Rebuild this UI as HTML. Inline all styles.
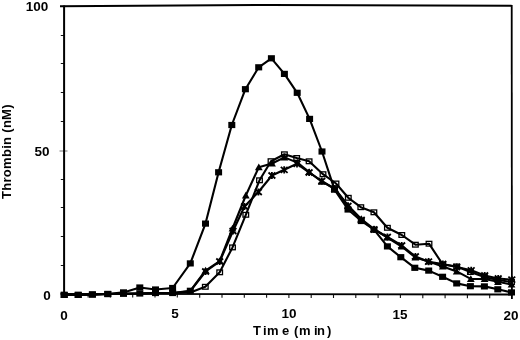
<!DOCTYPE html>
<html><head><meta charset="utf-8"><style>
html,body{margin:0;padding:0;background:#fff;}
body{width:520px;height:340px;overflow:hidden;position:relative;font-family:"Liberation Sans",sans-serif;}
svg{position:absolute;left:0;top:0;}
.t{position:absolute;will-change:transform;font-weight:bold;font-size:13px;line-height:13px;color:#000;white-space:nowrap;}
.n{position:absolute;will-change:transform;font-weight:bold;font-size:13.5px;line-height:13px;color:#000;white-space:nowrap;width:40px;text-align:center;}
</style></head><body>
<svg width="520" height="340" viewBox="0 0 520 340">
<g stroke="#111" stroke-width="1" fill="none"><line x1="60.8" y1="265.5" x2="64" y2="265.5"/><line x1="60.8" y1="236.5" x2="64" y2="236.5"/><line x1="60.8" y1="207.5" x2="64" y2="207.5"/><line x1="60.8" y1="179.5" x2="64" y2="179.5"/><line x1="60.8" y1="121.5" x2="64" y2="121.5"/><line x1="60.8" y1="92.5" x2="64" y2="92.5"/><line x1="60.8" y1="63.5" x2="64" y2="63.5"/><line x1="60.8" y1="35.5" x2="64" y2="35.5"/></g><g stroke="#111" stroke-width="1.1" fill="none"><line x1="88.1" y1="294" x2="88.1" y2="297.4"/><line x1="110.4" y1="294" x2="110.4" y2="297.5"/><line x1="132.7" y1="294" x2="132.7" y2="297.5"/><line x1="155.0" y1="294" x2="155.0" y2="297.6"/><line x1="177.3" y1="294" x2="177.3" y2="297.6"/><line x1="199.7" y1="294" x2="199.7" y2="297.7"/><line x1="222.0" y1="294" x2="222.0" y2="297.8"/><line x1="244.3" y1="294" x2="244.3" y2="297.8"/><line x1="266.6" y1="294" x2="266.6" y2="297.8"/><line x1="288.9" y1="294" x2="288.9" y2="297.9"/><line x1="311.2" y1="294" x2="311.2" y2="297.9"/><line x1="333.5" y1="294" x2="333.5" y2="298.0"/><line x1="355.8" y1="294" x2="355.8" y2="298.0"/><line x1="378.1" y1="294" x2="378.1" y2="298.1"/><line x1="400.4" y1="294" x2="400.4" y2="298.1"/><line x1="422.8" y1="294" x2="422.8" y2="298.2"/><line x1="445.1" y1="294" x2="445.1" y2="298.2"/><line x1="467.4" y1="294" x2="467.4" y2="298.3"/><line x1="489.7" y1="294" x2="489.7" y2="298.3"/></g>
<g stroke-width="1"><line x1="59.5" y1="151" x2="67.5" y2="151" stroke="#777"/></g>
<polyline points="60,6.3 270,4.9 511.6,5.8" fill="none" stroke="#000" stroke-width="2"/>
<line x1="511.7" y1="5" x2="511.9" y2="299" stroke="#000" stroke-width="1.8"/>
<line x1="64.1" y1="5.5" x2="64.1" y2="295" stroke="#000" stroke-width="2"/>
<line x1="60.5" y1="293.8" x2="512.5" y2="294.5" stroke="#000" stroke-width="1.8"/>
<g fill="none" stroke="#000" stroke-width="2.1" stroke-linejoin="round">
<polyline points="64.2,294.9 78.2,294.9 92.4,294.5 107.8,294.0 123.5,293.8 139.8,293.5 155.5,293.0 172.6,293.0 190.3,292.5 205.3,286.8 219.7,272.3 232.5,247.4 245.8,214.8 259.5,180.3 271.0,161.2 284.4,154.3 296.7,158.0 309.1,161.3 323.0,174.2 336.0,183.5 348.3,197.8 360.8,207.2 373.9,212.3 387.4,227.8 401.8,235.0 415.4,244.7 429.0,243.7 442.8,264.5 456.7,266.5 470.4,272.0 484.4,277.0 497.8,280.0 511.5,282.0"/>
<polyline points="64.2,294.9 78.2,294.9 92.4,294.5 107.8,294.0 123.5,293.8 139.8,293.5 155.5,293.0 172.6,293.0 190.3,290.8 205.6,270.5 219.7,261.0 232.5,228.5 245.8,195.5 258.8,167.2 272.0,163.5 284.4,157.4 297.4,162.6 309.1,172.0 321.8,181.6 334.7,188.5 348.0,205.5 361.3,219.0 374.0,229.0 387.4,237.5 401.7,246.5 415.4,257.5 428.6,261.5 442.8,266.5 456.7,271.4 470.8,278.9 484.6,279.0 498.0,281.8 511.5,284.5"/>
<polyline points="64.2,294.9 78.2,294.9 92.4,294.5 107.8,294.0 123.5,293.8 139.8,293.5 155.5,293.0 172.6,293.0 190.3,291.2 205.6,271.5 219.7,261.5 233.0,231.0 244.5,206.5 258.4,192.0 271.9,175.5 284.2,169.8 297.0,163.8 309.1,172.5 321.8,181.0 334.7,189.0 348.0,206.0 361.3,220.0 374.0,229.5 387.4,237.0 401.7,245.5 415.4,256.5 428.6,261.7 442.8,264.0 456.7,267.0 471.2,270.3 484.7,275.5 498.2,278.5 511.8,279.7"/>
<polyline points="64.2,294.9 78.2,294.9 92.4,294.5 107.8,294.0 123.5,292.4 139.8,287.5 155.5,289.5 172.6,288.0 190.3,263.4 205.5,223.6 218.6,172.3 231.8,125.0 245.4,89.2 258.7,67.3 271.4,58.3 284.4,73.9 297.2,92.8 309.6,118.9 322.0,151.5 334.5,189.6 348.0,209.5 361.3,221.0 374.0,229.7 387.4,246.4 400.8,257.2 414.8,267.8 428.7,270.6 442.6,276.8 456.7,283.4 470.4,286.2 484.4,286.4 497.8,289.3 511.5,292.4"/>
</g>
<g fill="none" stroke="#000" stroke-width="1.3"><rect x="202.50" y="284.45" width="5.6" height="4.7"/><rect x="216.90" y="269.95" width="5.6" height="4.7"/><rect x="229.70" y="245.05" width="5.6" height="4.7"/><rect x="243.00" y="212.45" width="5.6" height="4.7"/><rect x="256.70" y="177.95" width="5.6" height="4.7"/><rect x="268.20" y="158.85" width="5.6" height="4.7"/><rect x="281.60" y="151.95" width="5.6" height="4.7"/><rect x="293.90" y="155.65" width="5.6" height="4.7"/><rect x="306.30" y="158.95" width="5.6" height="4.7"/><rect x="320.20" y="171.85" width="5.6" height="4.7"/><rect x="333.20" y="181.15" width="5.6" height="4.7"/><rect x="345.50" y="195.45" width="5.6" height="4.7"/><rect x="358.00" y="204.85" width="5.6" height="4.7"/><rect x="371.10" y="209.95" width="5.6" height="4.7"/><rect x="384.60" y="225.45" width="5.6" height="4.7"/><rect x="399.00" y="232.65" width="5.6" height="4.7"/><rect x="412.60" y="242.35" width="5.6" height="4.7"/><rect x="426.20" y="241.35" width="5.6" height="4.7"/><rect x="440.00" y="262.15" width="5.6" height="4.7"/><rect x="453.90" y="264.15" width="5.6" height="4.7"/><rect x="467.60" y="269.65" width="5.6" height="4.7"/><rect x="481.60" y="274.65" width="5.6" height="4.7"/><rect x="495.00" y="277.65" width="5.6" height="4.7"/><rect x="508.70" y="279.65" width="5.6" height="4.7"/></g>
<g stroke="#000" stroke-width="1.8" fill="none"><path d="M202.2,268.5L209.0,274.5M202.2,274.5L209.0,268.5M205.6,267.9L205.6,275.1"/><path d="M216.3,258.5L223.1,264.5M216.3,264.5L223.1,258.5M219.7,257.9L219.7,265.1"/><path d="M229.6,228.0L236.4,234.0M229.6,234.0L236.4,228.0M233.0,227.4L233.0,234.6"/><path d="M241.1,203.5L247.9,209.5M241.1,209.5L247.9,203.5M244.5,202.9L244.5,210.1"/><path d="M255.0,189.0L261.8,195.0M255.0,195.0L261.8,189.0M258.4,188.4L258.4,195.6"/><path d="M268.5,172.5L275.3,178.5M268.5,178.5L275.3,172.5M271.9,171.9L271.9,179.1"/><path d="M280.8,166.8L287.6,172.8M280.8,172.8L287.6,166.8M284.2,166.2L284.2,173.4"/><path d="M293.6,160.8L300.4,166.8M293.6,166.8L300.4,160.8M297.0,160.2L297.0,167.4"/><path d="M305.7,169.5L312.5,175.5M305.7,175.5L312.5,169.5M309.1,168.9L309.1,176.1"/><path d="M318.4,178.0L325.2,184.0M318.4,184.0L325.2,178.0M321.8,177.4L321.8,184.6"/><path d="M331.3,186.0L338.1,192.0M331.3,192.0L338.1,186.0M334.7,185.4L334.7,192.6"/><path d="M344.6,203.0L351.4,209.0M344.6,209.0L351.4,203.0M348.0,202.4L348.0,209.6"/><path d="M357.9,217.0L364.7,223.0M357.9,223.0L364.7,217.0M361.3,216.4L361.3,223.6"/><path d="M370.6,226.5L377.4,232.5M370.6,232.5L377.4,226.5M374.0,225.9L374.0,233.1"/><path d="M384.0,234.0L390.8,240.0M384.0,240.0L390.8,234.0M387.4,233.4L387.4,240.6"/><path d="M398.3,242.5L405.1,248.5M398.3,248.5L405.1,242.5M401.7,241.9L401.7,249.1"/><path d="M412.0,253.5L418.8,259.5M412.0,259.5L418.8,253.5M415.4,252.9L415.4,260.1"/><path d="M425.2,258.7L432.0,264.7M425.2,264.7L432.0,258.7M428.6,258.1L428.6,265.3"/><path d="M439.4,261.0L446.2,267.0M439.4,267.0L446.2,261.0M442.8,260.4L442.8,267.6"/><path d="M453.3,264.0L460.1,270.0M453.3,270.0L460.1,264.0M456.7,263.4L456.7,270.6"/><path d="M467.8,267.3L474.6,273.3M467.8,273.3L474.6,267.3M471.2,266.7L471.2,273.9"/><path d="M481.3,272.5L488.1,278.5M481.3,278.5L488.1,272.5M484.7,271.9L484.7,279.1"/><path d="M494.8,275.5L501.6,281.5M494.8,281.5L501.6,275.5M498.2,274.9L498.2,282.1"/><path d="M508.4,276.7L515.2,282.7M508.4,282.7L515.2,276.7M511.8,276.1L511.8,283.3"/></g>
<g fill="#000"><polygon points="205.6,266.8 201.7,273.6 209.5,273.6"/><polygon points="219.7,257.3 215.8,264.1 223.6,264.1"/><polygon points="232.5,224.8 228.6,231.6 236.4,231.6"/><polygon points="245.8,191.8 241.9,198.6 249.7,198.6"/><polygon points="258.8,163.5 254.9,170.3 262.7,170.3"/><polygon points="272.0,159.8 268.1,166.6 275.9,166.6"/><polygon points="284.4,153.7 280.5,160.5 288.3,160.5"/><polygon points="297.4,158.9 293.5,165.7 301.3,165.7"/><polygon points="309.1,168.3 305.2,175.1 313.0,175.1"/><polygon points="321.8,177.9 317.9,184.7 325.7,184.7"/><polygon points="334.7,184.8 330.8,191.6 338.6,191.6"/><polygon points="348.0,201.8 344.1,208.6 351.9,208.6"/><polygon points="361.3,215.3 357.4,222.1 365.2,222.1"/><polygon points="374.0,225.3 370.1,232.1 377.9,232.1"/><polygon points="387.4,233.8 383.5,240.6 391.3,240.6"/><polygon points="401.7,242.8 397.8,249.6 405.6,249.6"/><polygon points="415.4,253.8 411.5,260.6 419.3,260.6"/><polygon points="428.6,257.8 424.7,264.6 432.5,264.6"/><polygon points="442.8,262.8 438.9,269.6 446.7,269.6"/><polygon points="456.7,267.7 452.8,274.5 460.6,274.5"/><polygon points="470.8,275.2 466.9,282.0 474.7,282.0"/><polygon points="484.6,275.3 480.7,282.1 488.5,282.1"/><polygon points="498.0,278.1 494.1,284.9 501.9,284.9"/><polygon points="511.5,280.8 507.6,287.6 515.4,287.6"/></g>
<g fill="#000"><rect x="60.70" y="291.80" width="7.0" height="6.2"/><rect x="74.70" y="291.80" width="7.0" height="6.2"/><rect x="88.90" y="291.40" width="7.0" height="6.2"/><rect x="104.30" y="290.90" width="7.0" height="6.2"/><rect x="120.00" y="290.70" width="7.0" height="6.2"/><rect x="136.30" y="290.40" width="7.0" height="6.2"/><rect x="152.00" y="289.90" width="7.0" height="6.2"/><rect x="169.10" y="289.90" width="7.0" height="6.2"/><rect x="60.70" y="291.80" width="7.0" height="6.2"/><rect x="74.70" y="291.80" width="7.0" height="6.2"/><rect x="88.90" y="291.40" width="7.0" height="6.2"/><rect x="104.30" y="290.90" width="7.0" height="6.2"/><rect x="120.00" y="289.30" width="7.0" height="6.2"/><rect x="136.30" y="284.40" width="7.0" height="6.2"/><rect x="152.00" y="286.40" width="7.0" height="6.2"/><rect x="169.10" y="284.90" width="7.0" height="6.2"/><rect x="186.80" y="260.30" width="7.0" height="6.2"/><rect x="202.00" y="220.50" width="7.0" height="6.2"/><rect x="215.10" y="169.20" width="7.0" height="6.2"/><rect x="228.30" y="121.90" width="7.0" height="6.2"/><rect x="241.90" y="86.10" width="7.0" height="6.2"/><rect x="255.20" y="64.20" width="7.0" height="6.2"/><rect x="267.90" y="55.20" width="7.0" height="6.2"/><rect x="280.90" y="70.80" width="7.0" height="6.2"/><rect x="293.70" y="89.70" width="7.0" height="6.2"/><rect x="306.10" y="115.80" width="7.0" height="6.2"/><rect x="318.50" y="148.40" width="7.0" height="6.2"/><rect x="331.00" y="186.50" width="7.0" height="6.2"/><rect x="344.50" y="206.40" width="7.0" height="6.2"/><rect x="357.80" y="217.90" width="7.0" height="6.2"/><rect x="370.50" y="226.60" width="7.0" height="6.2"/><rect x="383.90" y="243.30" width="7.0" height="6.2"/><rect x="397.30" y="254.10" width="7.0" height="6.2"/><rect x="411.30" y="264.70" width="7.0" height="6.2"/><rect x="425.20" y="267.50" width="7.0" height="6.2"/><rect x="439.10" y="273.70" width="7.0" height="6.2"/><rect x="453.20" y="280.30" width="7.0" height="6.2"/><rect x="466.90" y="283.10" width="7.0" height="6.2"/><rect x="480.90" y="283.30" width="7.0" height="6.2"/><rect x="494.30" y="286.20" width="7.0" height="6.2"/><rect x="508.00" y="289.30" width="7.0" height="6.2"/><rect x="186.80" y="287.70" width="7.0" height="6.2"/></g>
</svg>
<div class="n" style="left:17.1px;top:0.4px;">100</div>
<div class="n" style="left:21.8px;top:144.6px;">50</div>
<div class="n" style="left:26.6px;top:289.1px;">0</div>
<div class="n" style="left:43.6px;top:309.1px;">0</div>
<div class="n" style="left:155.4px;top:307.3px;">5</div>
<div class="n" style="left:268.6px;top:307.2px;">10</div>
<div class="n" style="left:379.9px;top:307.5px;">15</div>
<div class="n" style="left:491.3px;top:308.7px;">20</div>
<div class="t" style="left:252.6px;top:324.4px;">T</div>
<div class="t" style="left:262.5px;top:324.4px;">i</div>
<div class="t" style="left:266.5px;top:324.4px;">m</div>
<div class="t" style="left:281.5px;top:324.4px;">e</div>
<div class="t" style="left:293.8px;top:324.4px;">(</div>
<div class="t" style="left:298.7px;top:324.4px;">m</div>
<div class="t" style="left:313.5px;top:324.4px;">i</div>
<div class="t" style="left:316.8px;top:324.4px;">n</div>
<div class="t" style="left:327.1px;top:324.4px;">)</div>
<div class="t" style="left:0.3px;top:199px;transform-origin:0 0;transform:rotate(-90deg);letter-spacing:0.3px;">Thrombin (nM)</div>
</body></html>
